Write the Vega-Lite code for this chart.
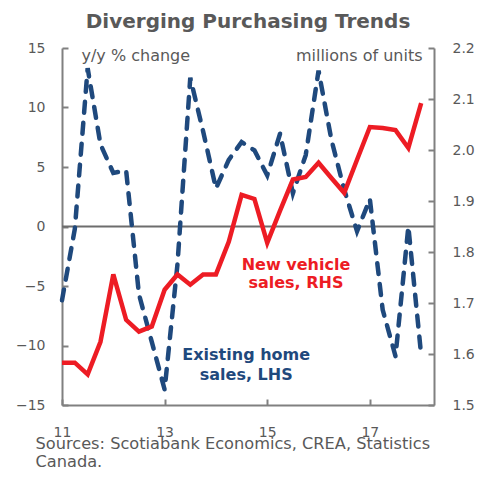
{
  "$schema": "https://vega.github.io/schema/vega-lite/v6.json",
  "width": 372,
  "height": 357,
  "autosize": {"type": "none"},
  "padding": {"left": 62, "top": 48, "right": 60, "bottom": 76},
  "background": "white",
  "title": {
    "text": "Diverging  Purchasing Trends",
    "font": "DejaVu Sans",
    "fontSize": 20,
    "fontWeight": "bold",
    "color": "#595959",
    "anchor": "middle",
    "offset": 9
  },
  "config": {
    "font": "DejaVu Sans",
    "view": {"stroke": null},
    "axis": {
      "grid": false,
      "domainColor": "#808080",
      "domainWidth": 2,
      "tickColor": "#808080",
      "tickWidth": 2,
      "labelColor": "#595959",
      "labelFont": "DejaVu Sans",
      "labelFontSize": 14,
      "titleColor": "#595959",
      "titleFont": "DejaVu Sans",
      "titleFontWeight": "normal",
      "titleFontSize": 16
    }
  },
  "datasets": {
    "sales": [
      {"t": 2011.00, "home": -6.2, "vehicle": 1.583},
      {"t": 2011.25, "home": -0.2, "vehicle": 1.583},
      {"t": 2011.50, "home": 13.3, "vehicle": 1.560},
      {"t": 2011.75, "home": 6.9, "vehicle": 1.624},
      {"t": 2012.00, "home": 4.5, "vehicle": 1.756},
      {"t": 2012.25, "home": 4.7, "vehicle": 1.667},
      {"t": 2012.50, "home": -5.7, "vehicle": 1.644},
      {"t": 2012.75, "home": -9.7, "vehicle": 1.654},
      {"t": 2013.00, "home": -13.7, "vehicle": 1.726},
      {"t": 2013.25, "home": -3.2, "vehicle": 1.756},
      {"t": 2013.50, "home": 12.5, "vehicle": 1.736},
      {"t": 2013.75, "home": 8.0, "vehicle": 1.756},
      {"t": 2014.00, "home": 3.2, "vehicle": 1.756},
      {"t": 2014.25, "home": 5.6, "vehicle": 1.820},
      {"t": 2014.50, "home": 7.1, "vehicle": 1.912},
      {"t": 2014.75, "home": 6.4, "vehicle": 1.904},
      {"t": 2015.00, "home": 4.3, "vehicle": 1.818},
      {"t": 2015.25, "home": 7.8, "vehicle": 1.881},
      {"t": 2015.50, "home": 2.8, "vehicle": 1.942},
      {"t": 2015.75, "home": 6.0, "vehicle": 1.947},
      {"t": 2016.00, "home": 13.1, "vehicle": 1.975},
      {"t": 2016.25, "home": 7.3, "vehicle": 1.945},
      {"t": 2016.50, "home": 3.1, "vehicle": 1.916},
      {"t": 2016.75, "home": -0.4, "vehicle": 1.981},
      {"t": 2017.00, "home": 2.3, "vehicle": 2.045},
      {"t": 2017.25, "home": -7.0, "vehicle": 2.043},
      {"t": 2017.50, "home": -10.9, "vehicle": 2.039},
      {"t": 2017.75, "home": 0.0, "vehicle": 2.004},
      {"t": 2018.00, "home": -10.8, "vehicle": 2.092}
    ],
    "zero": [{"home": 0}],
    "homeLabel": [
      {"t": 2014.59, "home": -10.76, "label": "Existing home"},
      {"t": 2014.59, "home": -12.44, "label": "sales, LHS"}
    ],
    "vehicleLabel": [
      {"t": 2015.56, "vehicle": 1.775, "label": "New vehicle"},
      {"t": 2015.56, "vehicle": 1.740, "label": "sales, RHS"}
    ]
  },
  "layer": [
    {
      "layer": [
        {
          "data": {"name": "zero"},
          "mark": {"type": "rule", "color": "#6d6d6d", "strokeWidth": 2},
          "encoding": {"y": {"field": "home", "type": "quantitative"}}
        },
        {
          "data": {"name": "sales"},
          "mark": {"type": "line", "color": "#1F497D", "strokeWidth": 4.5, "strokeDash": [11, 10], "strokeCap": "round"},
          "encoding": {
            "x": {
              "field": "t",
              "type": "quantitative",
              "scale": {"domain": [2011, 2018.25], "nice": false, "zero": false},
              "axis": {
                "values": [2011, 2013, 2015, 2017],
                "format": "d",
                "labelExpr": "substring(datum.label, 2)",
                "labelFlush": false,
                "tickSize": -6,
                "labelPadding": 26,
                "title": ["Sources: Scotiabank Economics, CREA, Statistics", "Canada."],
                "titleX": -27,
                "titleY": 43,
                "titleAlign": "left",
                "titleAnchor": "start",
                "titleBaseline": "alphabetic",
                "titleFontSize": 16.2,
                "titleLineHeight": 18.5
              }
            },
            "y": {
              "field": "home",
              "type": "quantitative",
              "scale": {"domain": [-15, 15], "nice": false, "zero": false},
              "axis": {
                "orient": "left",
                "values": [-15, -10, -5, 0, 5, 10, 15],
                "tickSize": -6,
                "labelPadding": 23,
                "title": "y/y % change",
                "titleAngle": 0,
                "titleX": 19,
                "titleY": 12,
                "titleAlign": "left",
                "titleBaseline": "alphabetic"
              }
            }
          }
        },
        {
          "data": {"name": "homeLabel"},
          "mark": {"type": "text", "color": "#1F497D", "fontWeight": "bold", "fontSize": 16, "align": "center", "baseline": "middle"},
          "encoding": {
            "x": {"field": "t", "type": "quantitative"},
            "y": {"field": "home", "type": "quantitative"},
            "text": {"field": "label"}
          }
        }
      ]
    },
    {
      "layer": [
        {
          "data": {"name": "sales"},
          "mark": {"type": "line", "color": "#ED1C24", "strokeWidth": 4.5},
          "encoding": {
            "x": {"field": "t", "type": "quantitative"},
            "y": {
              "field": "vehicle",
              "type": "quantitative",
              "scale": {"domain": [1.5, 2.2], "nice": false, "zero": false},
              "axis": {
                "orient": "right",
                "values": [1.5, 1.6, 1.7, 1.8, 1.9, 2.0, 2.1, 2.2],
                "format": ".1f",
                "tickSize": -6,
                "labelPadding": 24,
                "title": "millions of units",
                "titleAngle": 0,
                "titleX": -12,
                "titleY": 12,
                "titleAlign": "right",
                "titleBaseline": "alphabetic"
              }
            }
          }
        },
        {
          "data": {"name": "vehicleLabel"},
          "mark": {"type": "text", "color": "#ED1C24", "fontWeight": "bold", "fontSize": 16, "align": "center", "baseline": "middle"},
          "encoding": {
            "x": {"field": "t", "type": "quantitative"},
            "y": {"field": "vehicle", "type": "quantitative"},
            "text": {"field": "label"}
          }
        }
      ]
    }
  ],
  "resolve": {"scale": {"y": "independent"}}
}
